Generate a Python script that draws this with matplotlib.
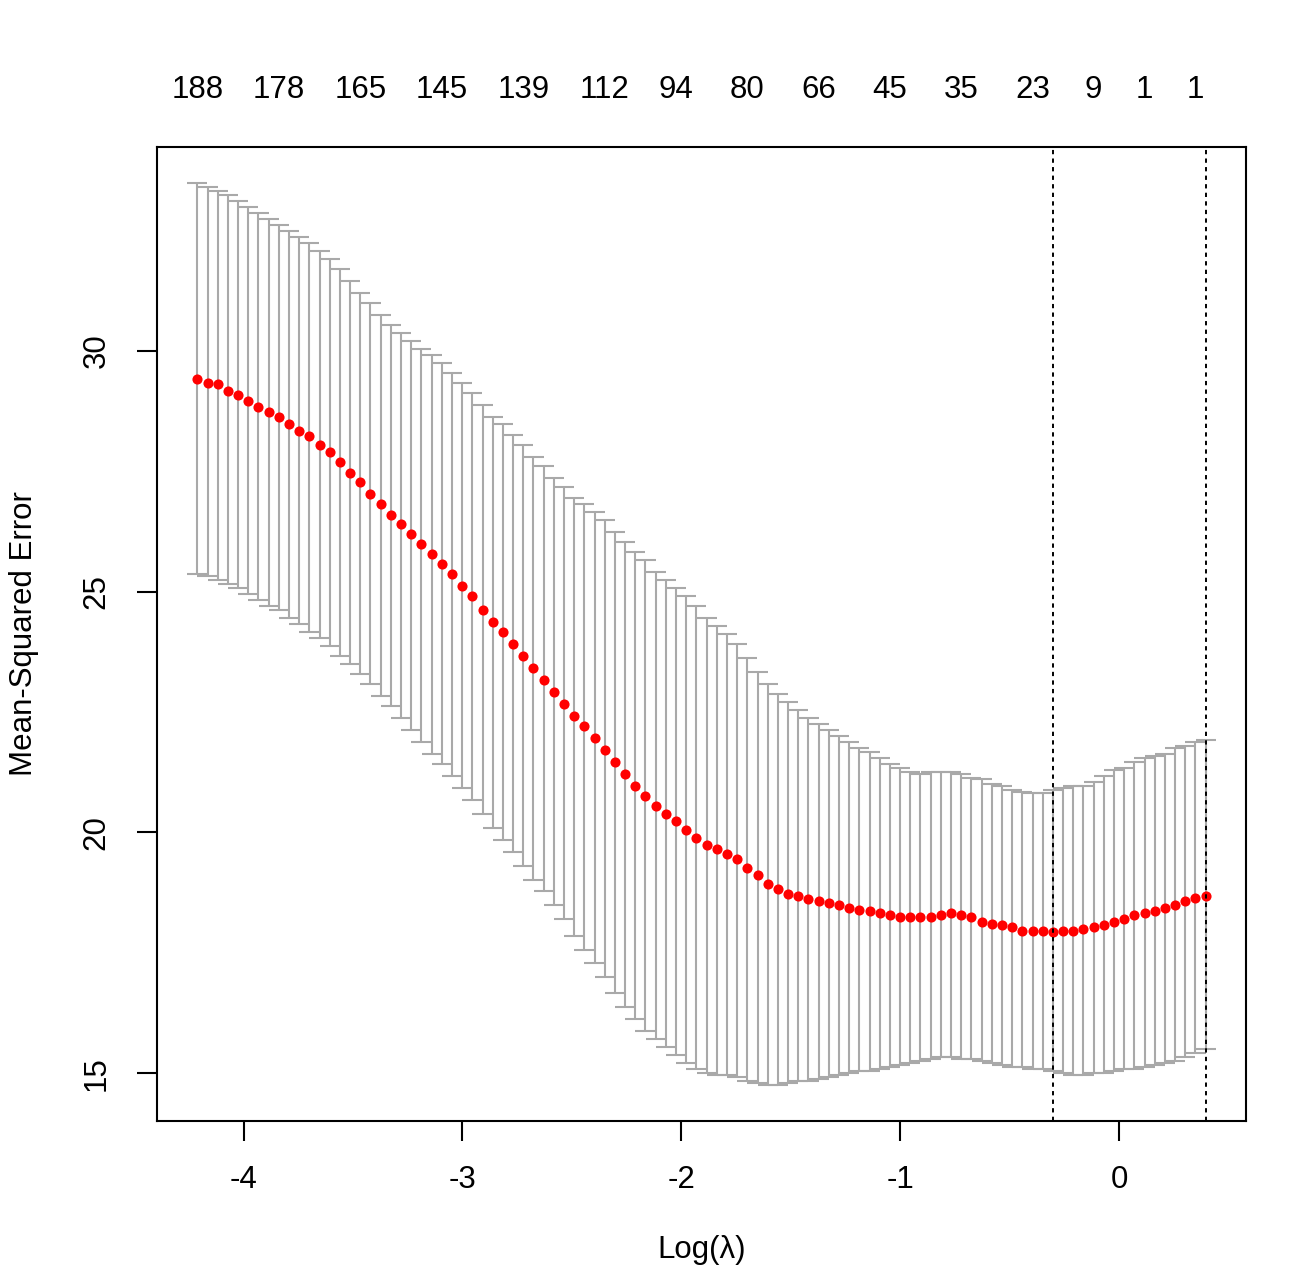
import numpy as np
import matplotlib
matplotlib.use("Agg")
import matplotlib.pyplot as plt
from matplotlib.transforms import blended_transform_factory

# ---- data ----
N_LAMBDA = 100
LOG_LAMBDA_MIN = -4.211
LOG_LAMBDA_MAX = 0.394

cv_mean = [
    29.42, 29.34, 29.30, 29.17, 29.09, 28.96, 28.84, 28.72, 28.63, 28.47,
    28.34, 28.22, 28.05, 27.89, 27.68, 27.47, 27.27, 27.02, 26.81, 26.60,
    26.40, 26.19, 25.98, 25.78, 25.57, 25.36, 25.11, 24.91, 24.62, 24.37,
    24.16, 23.91, 23.66, 23.41, 23.17, 22.92, 22.67, 22.42, 22.21, 21.97,
    21.72, 21.47, 21.22, 20.97, 20.76, 20.56, 20.39, 20.23, 20.06, 19.89,
    19.73, 19.65, 19.56, 19.44, 19.27, 19.11, 18.94, 18.82, 18.73, 18.69,
    18.61, 18.57, 18.53, 18.49, 18.44, 18.40, 18.36, 18.32, 18.28, 18.24,
    18.24, 18.24, 18.24, 18.28, 18.32, 18.28, 18.24, 18.15, 18.11, 18.07,
    18.03, 17.95, 17.95, 17.95, 17.93, 17.95, 17.95, 17.99, 18.03, 18.07,
    18.15, 18.20, 18.28, 18.32, 18.36, 18.44, 18.49, 18.57, 18.65, 18.69,
]

cv_upper = [
    33.48, 33.40, 33.31, 33.23, 33.11, 32.98, 32.86, 32.73, 32.61, 32.49,
    32.36, 32.24, 32.07, 31.91, 31.70, 31.45, 31.20, 30.99, 30.75, 30.54,
    30.37, 30.21, 30.04, 29.92, 29.75, 29.54, 29.34, 29.13, 28.88, 28.63,
    28.47, 28.26, 28.05, 27.80, 27.60, 27.35, 27.18, 26.94, 26.81, 26.65,
    26.48, 26.23, 26.02, 25.82, 25.65, 25.40, 25.24, 25.07, 24.91, 24.70,
    24.45, 24.28, 24.12, 23.91, 23.62, 23.33, 23.08, 22.88, 22.71, 22.55,
    22.38, 22.26, 22.13, 22.01, 21.88, 21.76, 21.68, 21.55, 21.43, 21.34,
    21.26, 21.22, 21.26, 21.26, 21.26, 21.22, 21.14, 21.10, 21.01, 20.97,
    20.89, 20.85, 20.81, 20.81, 20.89, 20.93, 20.97, 20.97, 21.05, 21.18,
    21.30, 21.34, 21.47, 21.55, 21.59, 21.63, 21.76, 21.80, 21.88, 21.92,
]

cv_lower = [
    25.36, 25.32, 25.24, 25.15, 25.07, 24.95, 24.82, 24.70, 24.62, 24.45,
    24.33, 24.16, 24.04, 23.87, 23.66, 23.50, 23.29, 23.08, 22.83, 22.63,
    22.38, 22.13, 21.88, 21.63, 21.43, 21.18, 20.93, 20.68, 20.39, 20.10,
    19.85, 19.60, 19.31, 19.02, 18.78, 18.49, 18.20, 17.86, 17.57, 17.29,
    17.00, 16.66, 16.37, 16.13, 15.88, 15.71, 15.55, 15.38, 15.21, 15.09,
    15.01, 14.97, 14.97, 14.92, 14.84, 14.80, 14.76, 14.76, 14.80, 14.84,
    14.84, 14.88, 14.92, 14.97, 15.01, 15.05, 15.05, 15.09, 15.13, 15.17,
    15.21, 15.26, 15.30, 15.34, 15.34, 15.30, 15.30, 15.26, 15.21, 15.17,
    15.13, 15.13, 15.09, 15.09, 15.05, 15.01, 14.97, 14.97, 15.01, 15.01,
    15.05, 15.09, 15.09, 15.13, 15.17, 15.21, 15.26, 15.34, 15.42, 15.50,
]

# number of non-zero coefficients shown on the top axis
nz_index = [0, 8, 16, 24, 32, 40, 47, 54, 61, 68, 75, 82, 88, 93, 98]
nz_labels = ["188", "178", "165", "145", "139", "112", "94", "80", "66",
             "45", "35", "23", "9", "1", "1"]

x_ticks = [-4, -3, -2, -1, 0]
y_ticks = [15, 20, 25, 30]

# ---- figure ----
W, H = 1300, 1283
DPI = 100
plt.rcParams['font.family'] = ['Liberation Sans', 'DejaVu Sans']
FS = 22.5

fig = plt.figure(figsize=(W / DPI, H / DPI), dpi=DPI)
ax = fig.add_axes([157 / W, 1 - 1121 / H, (1246 - 157) / W, (1121 - 147) / H])

log_lambda = np.linspace(LOG_LAMBDA_MIN, LOG_LAMBDA_MAX, N_LAMBDA)
mean = np.array(cv_mean)
upper = np.array(cv_upper)
lower = np.array(cv_lower)

# R-style limits (range + 4%)
xr = log_lambda.max() - log_lambda.min()
ax.set_xlim(log_lambda.min() - 0.04 * xr, log_lambda.max() + 0.04 * xr)
ylo, yhi = min(lower.min(), upper.min()), max(lower.max(), upper.max())
yr = yhi - ylo
ax.set_ylim(ylo - 0.04 * yr, yhi + 0.04 * yr)

# error bars (glmnet error.bars, width=0.01)
barw = 0.01 * xr
grey = '#A9A9A9'
lw_bar = 1.5
ax.vlines(log_lambda, lower, upper, colors=grey, linewidth=lw_bar, zorder=2)
ax.hlines(upper, log_lambda - barw, log_lambda + barw, colors=grey, linewidth=lw_bar, zorder=2)
ax.hlines(lower, log_lambda - barw, log_lambda + barw, colors=grey, linewidth=lw_bar, zorder=2)

# mean points
ax.plot(log_lambda, mean, linestyle='none', marker='o', markersize=7.3,
        color='red', markeredgewidth=0, zorder=3)

# lambda.min and lambda.1se
i_min = int(np.argmin(mean))
thr = mean[i_min] + (upper[i_min] - mean[i_min])
i_1se = int(np.max(np.where(mean <= thr)[0]))
for i in (i_min, i_1se):
    ax.axvline(log_lambda[i], color='black', linewidth=1.4,
               linestyle=(0, (2.2, 2.2)), zorder=4)

# axes styling
for s in ax.spines.values():
    s.set_linewidth(1.5)
    s.set_color('black')
ax.set_xticks(x_ticks)
ax.set_yticks(y_ticks)
ax.set_xticklabels([str(v) for v in x_ticks])
ax.set_yticklabels([str(v) for v in y_ticks], rotation=90, va='center')
ax.tick_params(axis='both', direction='out', length=14.5, width=1.5,
               labelsize=FS, colors='black')
ax.tick_params(axis='x', pad=17)
ax.tick_params(axis='y', pad=18)

# top axis labels
trans = blended_transform_factory(ax.transData, ax.transAxes)
for idx, lab in zip(nz_index, nz_labels):
    ax.text(log_lambda[idx], (1121 - 90) / (1121 - 147), lab, transform=trans,
            ha='center', va='center', fontsize=FS, color='black')

fig.text((157 + 1246) / 2 / W, 1 - 1250 / H, 'Log(\u03bb)', ha='center', va='center',
         fontsize=FS, color='black')
fig.text(24 / W, 1 - 634 / H, 'Mean-Squared Error', ha='center', va='center',
         rotation=90, fontsize=FS, color='black')

fig.savefig('out.png', dpi=DPI, facecolor='white')
